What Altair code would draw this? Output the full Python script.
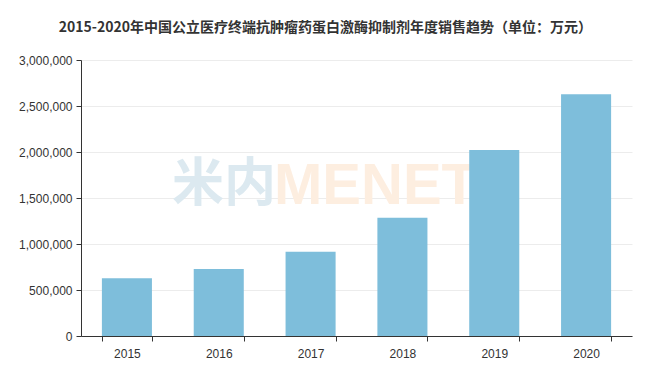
import altair as alt
import pandas as pd

years = ["2015", "2016", "2017", "2018", "2019", "2020"]
sales = [627000, 728000, 916000, 1286000, 2022000, 2627000]

df = pd.DataFrame({"year": years, "sales": sales})

FONT = "Noto Sans CJK SC"
NUMFONT = "Liberation Sans"

bars = alt.Chart(df).mark_bar(color="#7EBEDB").encode(
    x=alt.X("year:N", sort=years, title=None,
            scale=alt.Scale(paddingInner=0.455, paddingOuter=0.2275),
            axis=alt.Axis(labelAngle=0, labelFontSize=12, labelColor="#333",
                          labelFont=NUMFONT, domainColor="#333", tickColor="#333",
                          tickBand="extent", tickSize=5, labelPadding=7, grid=False)),
    y=alt.Y("sales:Q", title=None,
            scale=alt.Scale(domain=[0, 3000000]),
            axis=alt.Axis(values=[0, 500000, 1000000, 1500000, 2000000, 2500000, 3000000],
                          format=",.0f", labelFontSize=12, labelColor="#333", labelFont=NUMFONT,
                          domainColor="#333", tickColor="#333", tickSize=5,
                          gridColor="#ececec", labelPadding=4)),
)

wm1 = alt.Chart(pd.DataFrame({"t": ["米内"]})).mark_text(
    font=FONT, fontSize=52, fontWeight="bold", color="#dce9f0", align="right"
).encode(x=alt.value(195), y=alt.value(125), text="t:N")
wm2 = alt.Chart(pd.DataFrame({"t": ["MENET"]})).mark_text(
    font="Liberation Sans", fontSize=58, fontWeight="bold", color="#fdeee0", align="left"
).encode(x=alt.value(193), y=alt.value(127), text="t:N")

chart = alt.layer(wm1, wm2, bars).properties(
    width=551, height=276,
    autosize=alt.AutoSizeParams(type="none"),
    padding={"left": 73, "top": 52, "right": 12, "bottom": 32},
    title=alt.TitleParams(
        "2015-2020年中国公立医疗终端抗肿瘤药蛋白激酶抑制剂年度销售趋势（单位：万元）",
        font=FONT, fontSize=14, fontWeight="bold", color="#333", anchor="middle",
        frame="bounds", offset=19),
).configure_view(stroke=None)

chart.save("out.html", embed_options={"renderer": "svg", "actions": False})
